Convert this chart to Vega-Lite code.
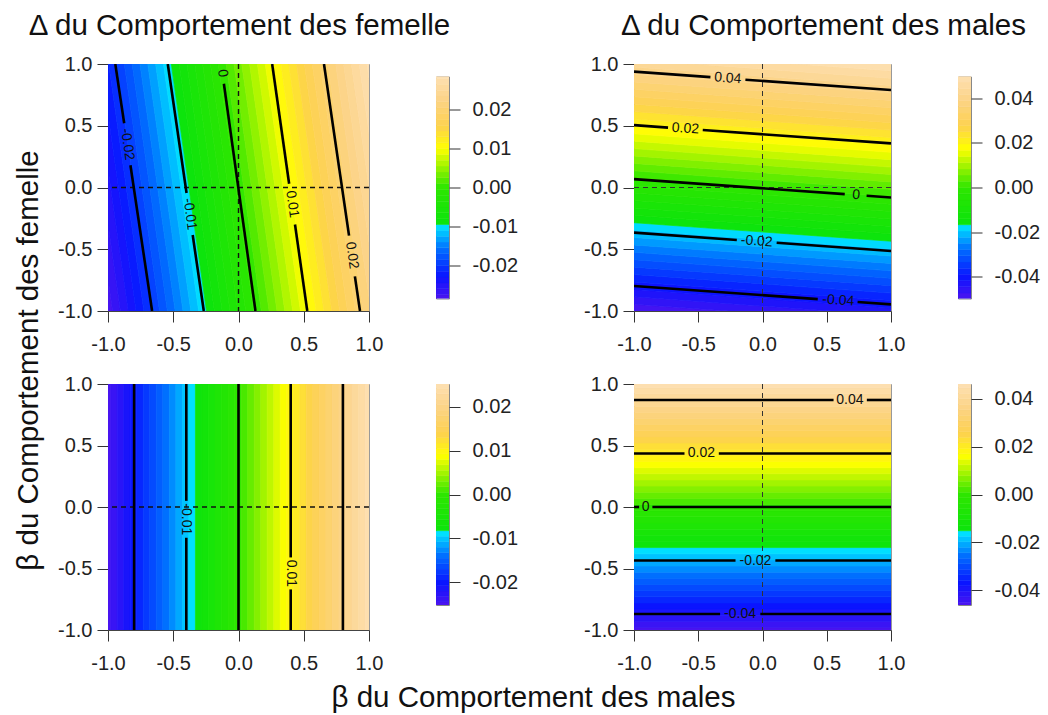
{
"$schema": "https://vega.github.io/schema/vega-lite/v6.json",
"background": "white",
"padding": {"left": 12, "top": 10, "right": 5, "bottom": 5},
"datasets": {
"tl": [
{"b":0,"y":-1,"x":-1.025,"x2":-0.965,"v":-0.02825,"v0":-0.029,"v1":-0.0275},{"b":0,"y":1,"x":-1.295,"x2":-1.235,"v":-0.02825},
{"b":1,"y":-1,"x":-0.965,"x2":-0.905,"v":-0.02675,"v0":-0.0275,"v1":-0.026},{"b":1,"y":1,"x":-1.235,"x2":-1.175,"v":-0.02675},
{"b":2,"y":-1,"x":-0.905,"x2":-0.845,"v":-0.02525,"v0":-0.026,"v1":-0.0245},{"b":2,"y":1,"x":-1.175,"x2":-1.115,"v":-0.02525},
{"b":3,"y":-1,"x":-0.845,"x2":-0.785,"v":-0.02375,"v0":-0.0245,"v1":-0.023},{"b":3,"y":1,"x":-1.115,"x2":-1.055,"v":-0.02375},
{"b":4,"y":-1,"x":-0.785,"x2":-0.725,"v":-0.02225,"v0":-0.023,"v1":-0.0215},{"b":4,"y":1,"x":-1.055,"x2":-0.995,"v":-0.02225},
{"b":5,"y":-1,"x":-0.725,"x2":-0.665,"v":-0.02075,"v0":-0.0215,"v1":-0.02},{"b":5,"y":1,"x":-0.995,"x2":-0.935,"v":-0.02075},
{"b":6,"y":-1,"x":-0.665,"x2":-0.605,"v":-0.01925,"v0":-0.02,"v1":-0.0185},{"b":6,"y":1,"x":-0.935,"x2":-0.875,"v":-0.01925},
{"b":7,"y":-1,"x":-0.605,"x2":-0.545,"v":-0.01775,"v0":-0.0185,"v1":-0.017},{"b":7,"y":1,"x":-0.875,"x2":-0.815,"v":-0.01775},
{"b":8,"y":-1,"x":-0.545,"x2":-0.485,"v":-0.01625,"v0":-0.017,"v1":-0.0155},{"b":8,"y":1,"x":-0.815,"x2":-0.755,"v":-0.01625},
{"b":9,"y":-1,"x":-0.485,"x2":-0.425,"v":-0.01475,"v0":-0.0155,"v1":-0.014},{"b":9,"y":1,"x":-0.755,"x2":-0.695,"v":-0.01475},
{"b":10,"y":-1,"x":-0.425,"x2":-0.365,"v":-0.01325,"v0":-0.014,"v1":-0.0125},{"b":10,"y":1,"x":-0.695,"x2":-0.635,"v":-0.01325},
{"b":11,"y":-1,"x":-0.365,"x2":-0.305,"v":-0.01175,"v0":-0.0125,"v1":-0.011},{"b":11,"y":1,"x":-0.635,"x2":-0.575,"v":-0.01175},
{"b":12,"y":-1,"x":-0.305,"x2":-0.245,"v":-0.01025,"v0":-0.011,"v1":-0.0095},{"b":12,"y":1,"x":-0.575,"x2":-0.515,"v":-0.01025},
{"b":13,"y":-1,"x":-0.245,"x2":-0.185,"v":-0.00875,"v0":-0.0095,"v1":-0.008},{"b":13,"y":1,"x":-0.515,"x2":-0.455,"v":-0.00875},
{"b":14,"y":-1,"x":-0.185,"x2":-0.125,"v":-0.00725,"v0":-0.008,"v1":-0.0065},{"b":14,"y":1,"x":-0.455,"x2":-0.395,"v":-0.00725},
{"b":15,"y":-1,"x":-0.125,"x2":-0.065,"v":-0.00575,"v0":-0.0065,"v1":-0.005},{"b":15,"y":1,"x":-0.395,"x2":-0.335,"v":-0.00575},
{"b":16,"y":-1,"x":-0.065,"x2":-0.005,"v":-0.00425,"v0":-0.005,"v1":-0.0035},{"b":16,"y":1,"x":-0.335,"x2":-0.275,"v":-0.00425},
{"b":17,"y":-1,"x":-0.005,"x2":0.055,"v":-0.00275,"v0":-0.0035,"v1":-0.002},{"b":17,"y":1,"x":-0.275,"x2":-0.215,"v":-0.00275},
{"b":18,"y":-1,"x":0.055,"x2":0.115,"v":-0.00125,"v0":-0.002,"v1":-0.0005},{"b":18,"y":1,"x":-0.215,"x2":-0.155,"v":-0.00125},
{"b":19,"y":-1,"x":0.115,"x2":0.175,"v":0.00025,"v0":-0.0005,"v1":0.001},{"b":19,"y":1,"x":-0.155,"x2":-0.095,"v":0.00025},
{"b":20,"y":-1,"x":0.175,"x2":0.235,"v":0.00175,"v0":0.001,"v1":0.0025},{"b":20,"y":1,"x":-0.095,"x2":-0.035,"v":0.00175},
{"b":21,"y":-1,"x":0.235,"x2":0.295,"v":0.00325,"v0":0.0025,"v1":0.004},{"b":21,"y":1,"x":-0.035,"x2":0.025,"v":0.00325},
{"b":22,"y":-1,"x":0.295,"x2":0.355,"v":0.00475,"v0":0.004,"v1":0.0055},{"b":22,"y":1,"x":0.025,"x2":0.085,"v":0.00475},
{"b":23,"y":-1,"x":0.355,"x2":0.415,"v":0.00625,"v0":0.0055,"v1":0.007},{"b":23,"y":1,"x":0.085,"x2":0.145,"v":0.00625},
{"b":24,"y":-1,"x":0.415,"x2":0.475,"v":0.00775,"v0":0.007,"v1":0.0085},{"b":24,"y":1,"x":0.145,"x2":0.205,"v":0.00775},
{"b":25,"y":-1,"x":0.475,"x2":0.535,"v":0.00925,"v0":0.0085,"v1":0.01},{"b":25,"y":1,"x":0.205,"x2":0.265,"v":0.00925},
{"b":26,"y":-1,"x":0.535,"x2":0.595,"v":0.01075,"v0":0.01,"v1":0.0115},{"b":26,"y":1,"x":0.265,"x2":0.325,"v":0.01075},
{"b":27,"y":-1,"x":0.595,"x2":0.655,"v":0.01225,"v0":0.0115,"v1":0.013},{"b":27,"y":1,"x":0.325,"x2":0.385,"v":0.01225},
{"b":28,"y":-1,"x":0.655,"x2":0.715,"v":0.01375,"v0":0.013,"v1":0.0145},{"b":28,"y":1,"x":0.385,"x2":0.445,"v":0.01375},
{"b":29,"y":-1,"x":0.715,"x2":0.775,"v":0.01525,"v0":0.0145,"v1":0.016},{"b":29,"y":1,"x":0.445,"x2":0.505,"v":0.01525},
{"b":30,"y":-1,"x":0.775,"x2":0.835,"v":0.01675,"v0":0.016,"v1":0.0175},{"b":30,"y":1,"x":0.505,"x2":0.565,"v":0.01675},
{"b":31,"y":-1,"x":0.835,"x2":0.895,"v":0.01825,"v0":0.0175,"v1":0.019},{"b":31,"y":1,"x":0.565,"x2":0.625,"v":0.01825},
{"b":32,"y":-1,"x":0.895,"x2":0.955,"v":0.01975,"v0":0.019,"v1":0.0205},{"b":32,"y":1,"x":0.625,"x2":0.685,"v":0.01975},
{"b":33,"y":-1,"x":0.955,"x2":1.015,"v":0.02125,"v0":0.0205,"v1":0.022},{"b":33,"y":1,"x":0.685,"x2":0.745,"v":0.02125},
{"b":34,"y":-1,"x":1.015,"x2":1.075,"v":0.02275,"v0":0.022,"v1":0.0235},{"b":34,"y":1,"x":0.745,"x2":0.805,"v":0.02275},
{"b":35,"y":-1,"x":1.075,"x2":1.135,"v":0.02425,"v0":0.0235,"v1":0.025},{"b":35,"y":1,"x":0.805,"x2":0.865,"v":0.02425},
{"b":36,"y":-1,"x":1.135,"x2":1.195,"v":0.02575,"v0":0.025,"v1":0.0265},{"b":36,"y":1,"x":0.865,"x2":0.925,"v":0.02575},
{"b":37,"y":-1,"x":1.195,"x2":1.255,"v":0.02725,"v0":0.0265,"v1":0.028},{"b":37,"y":1,"x":0.925,"x2":0.985,"v":0.02725},
{"b":38,"y":-1,"x":1.255,"x2":1.315,"v":0.02875,"v0":0.028,"v1":0.0295},{"b":38,"y":1,"x":0.985,"x2":1.045,"v":0.02875}
],
"tr": [
{"b":0,"x":-1,"y":-1.005,"y2":-0.945,"v":-0.04862,"v0":-0.05,"v1":-0.04723},{"b":0,"x":1,"y":-1.155,"y2":-1.095,"v":-0.04862},
{"b":1,"x":-1,"y":-0.945,"y2":-0.885,"v":-0.04584,"v0":-0.04723,"v1":-0.04445},{"b":1,"x":1,"y":-1.095,"y2":-1.035,"v":-0.04584},
{"b":2,"x":-1,"y":-0.885,"y2":-0.825,"v":-0.04306,"v0":-0.04445,"v1":-0.04167},{"b":2,"x":1,"y":-1.035,"y2":-0.975,"v":-0.04306},
{"b":3,"x":-1,"y":-0.825,"y2":-0.765,"v":-0.04028,"v0":-0.04167,"v1":-0.03889},{"b":3,"x":1,"y":-0.975,"y2":-0.915,"v":-0.04028},
{"b":4,"x":-1,"y":-0.765,"y2":-0.705,"v":-0.0375,"v0":-0.03889,"v1":-0.03611},{"b":4,"x":1,"y":-0.915,"y2":-0.855,"v":-0.0375},
{"b":5,"x":-1,"y":-0.705,"y2":-0.645,"v":-0.03473,"v0":-0.03611,"v1":-0.03334},{"b":5,"x":1,"y":-0.855,"y2":-0.795,"v":-0.03473},
{"b":6,"x":-1,"y":-0.645,"y2":-0.585,"v":-0.03195,"v0":-0.03334,"v1":-0.03056},{"b":6,"x":1,"y":-0.795,"y2":-0.735,"v":-0.03195},
{"b":7,"x":-1,"y":-0.585,"y2":-0.525,"v":-0.02917,"v0":-0.03056,"v1":-0.02778},{"b":7,"x":1,"y":-0.735,"y2":-0.675,"v":-0.02917},
{"b":8,"x":-1,"y":-0.525,"y2":-0.465,"v":-0.02639,"v0":-0.02778,"v1":-0.025},{"b":8,"x":1,"y":-0.675,"y2":-0.615,"v":-0.02639},
{"b":9,"x":-1,"y":-0.465,"y2":-0.405,"v":-0.02361,"v0":-0.025,"v1":-0.02222},{"b":9,"x":1,"y":-0.615,"y2":-0.555,"v":-0.02361},
{"b":10,"x":-1,"y":-0.405,"y2":-0.345,"v":-0.02084,"v0":-0.02222,"v1":-0.01945},{"b":10,"x":1,"y":-0.555,"y2":-0.495,"v":-0.02084},
{"b":11,"x":-1,"y":-0.345,"y2":-0.285,"v":-0.01806,"v0":-0.01945,"v1":-0.01667},{"b":11,"x":1,"y":-0.495,"y2":-0.435,"v":-0.01806},
{"b":12,"x":-1,"y":-0.285,"y2":-0.225,"v":-0.01528,"v0":-0.01667,"v1":-0.01389},{"b":12,"x":1,"y":-0.435,"y2":-0.375,"v":-0.01528},
{"b":13,"x":-1,"y":-0.225,"y2":-0.165,"v":-0.0125,"v0":-0.01389,"v1":-0.01111},{"b":13,"x":1,"y":-0.375,"y2":-0.315,"v":-0.0125},
{"b":14,"x":-1,"y":-0.165,"y2":-0.105,"v":-0.00972,"v0":-0.01111,"v1":-0.00833},{"b":14,"x":1,"y":-0.315,"y2":-0.255,"v":-0.00972},
{"b":15,"x":-1,"y":-0.105,"y2":-0.045,"v":-0.00695,"v0":-0.00833,"v1":-0.00556},{"b":15,"x":1,"y":-0.255,"y2":-0.195,"v":-0.00695},
{"b":16,"x":-1,"y":-0.045,"y2":0.015,"v":-0.00417,"v0":-0.00556,"v1":-0.00278},{"b":16,"x":1,"y":-0.195,"y2":-0.135,"v":-0.00417},
{"b":17,"x":-1,"y":0.015,"y2":0.075,"v":-0.00139,"v0":-0.00278,"v1":0},{"b":17,"x":1,"y":-0.135,"y2":-0.075,"v":-0.00139},
{"b":18,"x":-1,"y":0.075,"y2":0.135,"v":0.00139,"v0":0,"v1":0.00278},{"b":18,"x":1,"y":-0.075,"y2":-0.015,"v":0.00139},
{"b":19,"x":-1,"y":0.135,"y2":0.195,"v":0.00417,"v0":0.00278,"v1":0.00556},{"b":19,"x":1,"y":-0.015,"y2":0.045,"v":0.00417},
{"b":20,"x":-1,"y":0.195,"y2":0.255,"v":0.00695,"v0":0.00556,"v1":0.00833},{"b":20,"x":1,"y":0.045,"y2":0.105,"v":0.00695},
{"b":21,"x":-1,"y":0.255,"y2":0.315,"v":0.00972,"v0":0.00833,"v1":0.01111},{"b":21,"x":1,"y":0.105,"y2":0.165,"v":0.00972},
{"b":22,"x":-1,"y":0.315,"y2":0.375,"v":0.0125,"v0":0.01111,"v1":0.01389},{"b":22,"x":1,"y":0.165,"y2":0.225,"v":0.0125},
{"b":23,"x":-1,"y":0.375,"y2":0.435,"v":0.01528,"v0":0.01389,"v1":0.01667},{"b":23,"x":1,"y":0.225,"y2":0.285,"v":0.01528},
{"b":24,"x":-1,"y":0.435,"y2":0.495,"v":0.01806,"v0":0.01667,"v1":0.01945},{"b":24,"x":1,"y":0.285,"y2":0.345,"v":0.01806},
{"b":25,"x":-1,"y":0.495,"y2":0.555,"v":0.02084,"v0":0.01945,"v1":0.02222},{"b":25,"x":1,"y":0.345,"y2":0.405,"v":0.02084},
{"b":26,"x":-1,"y":0.555,"y2":0.615,"v":0.02361,"v0":0.02222,"v1":0.025},{"b":26,"x":1,"y":0.405,"y2":0.465,"v":0.02361},
{"b":27,"x":-1,"y":0.615,"y2":0.675,"v":0.02639,"v0":0.025,"v1":0.02778},{"b":27,"x":1,"y":0.465,"y2":0.525,"v":0.02639},
{"b":28,"x":-1,"y":0.675,"y2":0.735,"v":0.02917,"v0":0.02778,"v1":0.03056},{"b":28,"x":1,"y":0.525,"y2":0.585,"v":0.02917},
{"b":29,"x":-1,"y":0.735,"y2":0.795,"v":0.03195,"v0":0.03056,"v1":0.03334},{"b":29,"x":1,"y":0.585,"y2":0.645,"v":0.03195},
{"b":30,"x":-1,"y":0.795,"y2":0.855,"v":0.03473,"v0":0.03334,"v1":0.03611},{"b":30,"x":1,"y":0.645,"y2":0.705,"v":0.03473},
{"b":31,"x":-1,"y":0.855,"y2":0.915,"v":0.0375,"v0":0.03611,"v1":0.03889},{"b":31,"x":1,"y":0.705,"y2":0.765,"v":0.0375},
{"b":32,"x":-1,"y":0.915,"y2":0.975,"v":0.04028,"v0":0.03889,"v1":0.04167},{"b":32,"x":1,"y":0.765,"y2":0.825,"v":0.04028},
{"b":33,"x":-1,"y":0.975,"y2":1.035,"v":0.04306,"v0":0.04167,"v1":0.04445},{"b":33,"x":1,"y":0.825,"y2":0.885,"v":0.04306},
{"b":34,"x":-1,"y":1.035,"y2":1.095,"v":0.04584,"v0":0.04445,"v1":0.04723},{"b":34,"x":1,"y":0.885,"y2":0.945,"v":0.04584},
{"b":35,"x":-1,"y":1.095,"y2":1.155,"v":0.04862,"v0":0.04723,"v1":0.05},{"b":35,"x":1,"y":0.945,"y2":1.005,"v":0.04862}
],
"bl": [
{"x":-1.03,"x2":-0.98,"v":-0.025125,"v0":-0.02575,"v1":-0.0245},
{"x":-0.98,"x2":-0.93,"v":-0.023875,"v0":-0.0245,"v1":-0.02325},
{"x":-0.93,"x2":-0.88,"v":-0.022625,"v0":-0.02325,"v1":-0.022},
{"x":-0.88,"x2":-0.83,"v":-0.021375,"v0":-0.022,"v1":-0.02075},
{"x":-0.83,"x2":-0.78,"v":-0.020125,"v0":-0.02075,"v1":-0.0195},
{"x":-0.78,"x2":-0.73,"v":-0.018875,"v0":-0.0195,"v1":-0.01825},
{"x":-0.73,"x2":-0.68,"v":-0.017625,"v0":-0.01825,"v1":-0.017},
{"x":-0.68,"x2":-0.63,"v":-0.016375,"v0":-0.017,"v1":-0.01575},
{"x":-0.63,"x2":-0.58,"v":-0.015125,"v0":-0.01575,"v1":-0.0145},
{"x":-0.58,"x2":-0.53,"v":-0.013875,"v0":-0.0145,"v1":-0.01325},
{"x":-0.53,"x2":-0.48,"v":-0.012625,"v0":-0.01325,"v1":-0.012},
{"x":-0.48,"x2":-0.43,"v":-0.011375,"v0":-0.012,"v1":-0.01075},
{"x":-0.43,"x2":-0.38,"v":-0.010125,"v0":-0.01075,"v1":-0.0095},
{"x":-0.38,"x2":-0.33,"v":-0.008875,"v0":-0.0095,"v1":-0.00825},
{"x":-0.33,"x2":-0.28,"v":-0.007625,"v0":-0.00825,"v1":-0.007},
{"x":-0.28,"x2":-0.23,"v":-0.006375,"v0":-0.007,"v1":-0.00575},
{"x":-0.23,"x2":-0.18,"v":-0.005125,"v0":-0.00575,"v1":-0.0045},
{"x":-0.18,"x2":-0.13,"v":-0.003875,"v0":-0.0045,"v1":-0.00325},
{"x":-0.13,"x2":-0.08,"v":-0.002625,"v0":-0.00325,"v1":-0.002},
{"x":-0.08,"x2":-0.03,"v":-0.001375,"v0":-0.002,"v1":-0.00075},
{"x":-0.03,"x2":0.02,"v":-0.000125,"v0":-0.00075,"v1":0.0005},
{"x":0.02,"x2":0.07,"v":0.001125,"v0":0.0005,"v1":0.00175},
{"x":0.07,"x2":0.12,"v":0.002375,"v0":0.00175,"v1":0.003},
{"x":0.12,"x2":0.17,"v":0.003625,"v0":0.003,"v1":0.00425},
{"x":0.17,"x2":0.22,"v":0.004875,"v0":0.00425,"v1":0.0055},
{"x":0.22,"x2":0.27,"v":0.006125,"v0":0.0055,"v1":0.00675},
{"x":0.27,"x2":0.32,"v":0.007375,"v0":0.00675,"v1":0.008},
{"x":0.32,"x2":0.37,"v":0.008625,"v0":0.008,"v1":0.00925},
{"x":0.37,"x2":0.42,"v":0.009875,"v0":0.00925,"v1":0.0105},
{"x":0.42,"x2":0.47,"v":0.011125,"v0":0.0105,"v1":0.01175},
{"x":0.47,"x2":0.52,"v":0.012375,"v0":0.01175,"v1":0.013},
{"x":0.52,"x2":0.57,"v":0.013625,"v0":0.013,"v1":0.01425},
{"x":0.57,"x2":0.62,"v":0.014875,"v0":0.01425,"v1":0.0155},
{"x":0.62,"x2":0.67,"v":0.016125,"v0":0.0155,"v1":0.01675},
{"x":0.67,"x2":0.72,"v":0.017375,"v0":0.01675,"v1":0.018},
{"x":0.72,"x2":0.77,"v":0.018625,"v0":0.018,"v1":0.01925},
{"x":0.77,"x2":0.82,"v":0.019875,"v0":0.01925,"v1":0.0205},
{"x":0.82,"x2":0.87,"v":0.021125,"v0":0.0205,"v1":0.02175},
{"x":0.87,"x2":0.92,"v":0.022375,"v0":0.02175,"v1":0.023},
{"x":0.92,"x2":0.97,"v":0.023625,"v0":0.023,"v1":0.02425},
{"x":0.97,"x2":1.02,"v":0.024875,"v0":0.02425,"v1":0.0255}
],
"br": [
{"y":-1.03,"y2":-0.98,"v":-0.04623,"v0":-0.04738,"v1":-0.04508},
{"y":-0.98,"y2":-0.93,"v":-0.04393,"v0":-0.04508,"v1":-0.04278},
{"y":-0.93,"y2":-0.88,"v":-0.04163,"v0":-0.04278,"v1":-0.04048},
{"y":-0.88,"y2":-0.83,"v":-0.03933,"v0":-0.04048,"v1":-0.03818},
{"y":-0.83,"y2":-0.78,"v":-0.03703,"v0":-0.03818,"v1":-0.03588},
{"y":-0.78,"y2":-0.73,"v":-0.03473,"v0":-0.03588,"v1":-0.03358},
{"y":-0.73,"y2":-0.68,"v":-0.03243,"v0":-0.03358,"v1":-0.03128},
{"y":-0.68,"y2":-0.63,"v":-0.03013,"v0":-0.03128,"v1":-0.02898},
{"y":-0.63,"y2":-0.58,"v":-0.02783,"v0":-0.02898,"v1":-0.02668},
{"y":-0.58,"y2":-0.53,"v":-0.02553,"v0":-0.02668,"v1":-0.02438},
{"y":-0.53,"y2":-0.48,"v":-0.02323,"v0":-0.02438,"v1":-0.02208},
{"y":-0.48,"y2":-0.43,"v":-0.02093,"v0":-0.02208,"v1":-0.01978},
{"y":-0.43,"y2":-0.38,"v":-0.01863,"v0":-0.01978,"v1":-0.01748},
{"y":-0.38,"y2":-0.33,"v":-0.01633,"v0":-0.01748,"v1":-0.01518},
{"y":-0.33,"y2":-0.28,"v":-0.01403,"v0":-0.01518,"v1":-0.01288},
{"y":-0.28,"y2":-0.23,"v":-0.01173,"v0":-0.01288,"v1":-0.01058},
{"y":-0.23,"y2":-0.18,"v":-0.00943,"v0":-0.01058,"v1":-0.00828},
{"y":-0.18,"y2":-0.13,"v":-0.00713,"v0":-0.00828,"v1":-0.00598},
{"y":-0.13,"y2":-0.08,"v":-0.00483,"v0":-0.00598,"v1":-0.00368},
{"y":-0.08,"y2":-0.03,"v":-0.00253,"v0":-0.00368,"v1":-0.00138},
{"y":-0.03,"y2":0.02,"v":-0.00023,"v0":-0.00138,"v1":0.00092},
{"y":0.02,"y2":0.07,"v":0.00207,"v0":0.00092,"v1":0.00322},
{"y":0.07,"y2":0.12,"v":0.00437,"v0":0.00322,"v1":0.00552},
{"y":0.12,"y2":0.17,"v":0.00667,"v0":0.00552,"v1":0.00782},
{"y":0.17,"y2":0.22,"v":0.00897,"v0":0.00782,"v1":0.01012},
{"y":0.22,"y2":0.27,"v":0.01127,"v0":0.01012,"v1":0.01242},
{"y":0.27,"y2":0.32,"v":0.01357,"v0":0.01242,"v1":0.01472},
{"y":0.32,"y2":0.37,"v":0.01587,"v0":0.01472,"v1":0.01702},
{"y":0.37,"y2":0.42,"v":0.01817,"v0":0.01702,"v1":0.01932},
{"y":0.42,"y2":0.47,"v":0.02047,"v0":0.01932,"v1":0.02162},
{"y":0.47,"y2":0.52,"v":0.02277,"v0":0.02162,"v1":0.02392},
{"y":0.52,"y2":0.57,"v":0.02507,"v0":0.02392,"v1":0.02622},
{"y":0.57,"y2":0.62,"v":0.02737,"v0":0.02622,"v1":0.02852},
{"y":0.62,"y2":0.67,"v":0.02967,"v0":0.02852,"v1":0.03082},
{"y":0.67,"y2":0.72,"v":0.03197,"v0":0.03082,"v1":0.03312},
{"y":0.72,"y2":0.77,"v":0.03427,"v0":0.03312,"v1":0.03542},
{"y":0.77,"y2":0.82,"v":0.03657,"v0":0.03542,"v1":0.03772},
{"y":0.82,"y2":0.87,"v":0.03887,"v0":0.03772,"v1":0.04002},
{"y":0.87,"y2":0.92,"v":0.04117,"v0":0.04002,"v1":0.04232},
{"y":0.92,"y2":0.97,"v":0.04347,"v0":0.04232,"v1":0.04462},
{"y":0.97,"y2":1.02,"v":0.04577,"v0":0.04462,"v1":0.04692}
],
"lines": [
{"p":"TL","s":"a","x":-0.944,"y":1},{"p":"TL","s":"a","x":-0.876,"y":0.52},
{"p":"TL","s":"b","x":-0.828,"y":0.18},{"p":"TL","s":"b","x":-0.662,"y":-1},
{"p":"TL","s":"c","x":-0.542,"y":1},{"p":"TL","s":"c","x":-0.398,"y":-0.045},
{"p":"TL","s":"d","x":-0.351,"y":-0.385},{"p":"TL","s":"d","x":-0.266,"y":-1},
{"p":"TL","s":"e","x":-0.112,"y":0.84},{"p":"TL","s":"e","x":0.13,"y":-1},
{"p":"TL","s":"f","x":0.258,"y":1},{"p":"TL","s":"f","x":0.388,"y":0.03},
{"p":"TL","s":"g","x":0.433,"y":-0.3},{"p":"TL","s":"g","x":0.527,"y":-1},
{"p":"TL","s":"h","x":0.655,"y":1},{"p":"TL","s":"h","x":0.847,"y":-0.39},
{"p":"TL","s":"i","x":0.892,"y":-0.72},{"p":"TL","s":"i","x":0.931,"y":-1},
{"p":"TR","s":"a","x":-1,"y":0.938},{"p":"TR","s":"a","x":-0.405,"y":0.894},
{"p":"TR","s":"b","x":-0.133,"y":0.873},{"p":"TR","s":"b","x":1,"y":0.789},
{"p":"TR","s":"c","x":-1,"y":0.505},{"p":"TR","s":"c","x":-0.735,"y":0.485},
{"p":"TR","s":"d","x":-0.465,"y":0.465},{"p":"TR","s":"d","x":1,"y":0.357},
{"p":"TR","s":"e","x":-1,"y":0.068},{"p":"TR","s":"e","x":0.64,"y":-0.054},
{"p":"TR","s":"f","x":0.81,"y":-0.067},{"p":"TR","s":"f","x":1,"y":-0.081},
{"p":"TR","s":"g","x":-1,"y":-0.365},{"p":"TR","s":"g","x":-0.2,"y":-0.425},
{"p":"TR","s":"h","x":0.11,"y":-0.448},{"p":"TR","s":"h","x":1,"y":-0.514},
{"p":"TR","s":"i","x":-1,"y":-0.797},{"p":"TR","s":"i","x":0.43,"y":-0.904},
{"p":"TR","s":"j","x":0.74,"y":-0.927},{"p":"TR","s":"j","x":1,"y":-0.946},
{"p":"BL","s":"a","x":-0.8,"y":1},{"p":"BL","s":"a","x":-0.8,"y":-1},
{"p":"BL","s":"b","x":-0.4,"y":1},{"p":"BL","s":"b","x":-0.4,"y":0.05},
{"p":"BL","s":"c","x":-0.4,"y":-0.25},{"p":"BL","s":"c","x":-0.4,"y":-1},
{"p":"BL","s":"d","x":0,"y":1},{"p":"BL","s":"d","x":0,"y":-1},
{"p":"BL","s":"e","x":0.4,"y":1},{"p":"BL","s":"e","x":0.4,"y":-0.41},
{"p":"BL","s":"f","x":0.4,"y":-0.67},{"p":"BL","s":"f","x":0.4,"y":-1},
{"p":"BL","s":"g","x":0.8,"y":1},{"p":"BL","s":"g","x":0.8,"y":-1},
{"p":"BR","s":"a","x":-1,"y":0.87},{"p":"BR","s":"a","x":0.553,"y":0.87},
{"p":"BR","s":"b","x":0.812,"y":0.87},{"p":"BR","s":"b","x":1,"y":0.87},
{"p":"BR","s":"c","x":-1,"y":0.435},{"p":"BR","s":"c","x":-0.607,"y":0.435},
{"p":"BR","s":"d","x":-0.34,"y":0.435},{"p":"BR","s":"d","x":1,"y":0.435},
{"p":"BR","s":"e","x":-1,"y":0},{"p":"BR","s":"e","x":-0.96,"y":0},
{"p":"BR","s":"f","x":-0.857,"y":0},{"p":"BR","s":"f","x":1,"y":0},
{"p":"BR","s":"g","x":-1,"y":-0.435},{"p":"BR","s":"g","x":-0.21,"y":-0.435},
{"p":"BR","s":"h","x":0.1,"y":-0.435},{"p":"BR","s":"h","x":1,"y":-0.435},
{"p":"BR","s":"i","x":-1,"y":-0.87},{"p":"BR","s":"i","x":-0.33,"y":-0.87},
{"p":"BR","s":"j","x":-0.017,"y":-0.87},{"p":"BR","s":"j","x":1,"y":-0.87}
],
"labels": [
{"p":"TL","x":-0.852,"y":0.35,"t":"-0.02"},{"p":"TL","x":-0.374,"y":-0.215,"t":"-0.01"},{"p":"TL","x":-0.123,"y":0.925,"t":"0"},{"p":"TL","x":0.411,"y":-0.135,"t":"0.01"},{"p":"TL","x":0.869,"y":-0.55,"t":"0.02"},
{"p":"TR","x":-0.27,"y":0.884,"t":"0.04"},{"p":"TR","x":-0.6,"y":0.476,"t":"0.02"},{"p":"TR","x":0.728,"y":-0.061,"t":"0"},{"p":"TR","x":-0.045,"y":-0.436,"t":"-0.02"},{"p":"TR","x":0.59,"y":-0.915,"t":"-0.04"},
{"p":"BL","x":-0.4,"y":-0.1,"t":"-0.01"},{"p":"BL","x":0.4,"y":-0.54,"t":"0.01"},
{"p":"BR","x":0.68,"y":0.87,"t":"0.04"},{"p":"BR","x":-0.475,"y":0.435,"t":"0.02"},{"p":"BR","x":-0.91,"y":0,"t":"0"},{"p":"BR","x":-0.055,"y":-0.435,"t":"-0.02"},{"p":"BR","x":-0.175,"y":-0.87,"t":"-0.04"}
],
"ref": [{"p":"TL","z":0},{"p":"TR","z":0},{"p":"BL","z":0},{"p":"BR","z":0}]
},
"columns": 5,
"spacing": {"row": 73, "column": 67},
"bounds": "flush",
"center": true,
"resolve": {"scale": {"color": "independent", "stroke": "independent"}},
"concat": [
{
"width": 261, "height": 247,
"title": {"text": "Δ du Comportement des femelle", "frame": "group", "anchor": "middle", "dx": 1, "offset": -10, "baseline": "alphabetic", "fontSize": 29.5, "fontWeight": "normal", "color": "#111"},
"layer": [
{"data": {"name": "tl"}, "mark": {"type": "area", "orient": "horizontal", "clip": true, "strokeWidth": 0.7},
 "encoding": {
  "y": {"field": "y", "type": "quantitative", "scale": {"domain": [-1, 1], "nice": false, "zero": false}, "axis": {"values": [-1, -0.5, 0, 0.5, 1], "format": ".1f", "title": null, "labelPadding": 5}},
  "x": {"field": "x", "type": "quantitative", "stack": null, "scale": {"domain": [-1, 1], "nice": false, "zero": false}, "axis": {"values": [-1, -0.5, 0, 0.5, 1], "format": ".1f", "title": null, "labelPadding": 12}},
  "x2": {"field": "x2"},
  "detail": {"field": "b"},
  "color": {"field": "v", "type": "quantitative", "legend": null, "scale": {"type": "linear", "domain": [-0.0285, -0.0228, -0.01568, -0.00983, -0.00912, 0, 0.00998, 0.01568, 0.02223, 0.0285], "range": ["#4a14f0", "#0a14ff", "#0070ff", "#00e4ff", "#0ce40c", "#2ee600", "#ffff00", "#fdd24e", "#fcd385", "#fde0b2"], "interpolate": "rgb", "clamp": true, "zero": false, "nice": false}},
  "stroke": {"field": "v", "type": "quantitative", "legend": null, "scale": {"type": "linear", "domain": [-0.0285, -0.0228, -0.01568, -0.00983, -0.00912, 0, 0.00998, 0.01568, 0.02223, 0.0285], "range": ["#4a14f0", "#0a14ff", "#0070ff", "#00e4ff", "#0ce40c", "#2ee600", "#ffff00", "#fdd24e", "#fcd385", "#fde0b2"], "interpolate": "rgb", "clamp": true, "zero": false, "nice": false}}
 }},
{"data": {"name": "ref"}, "transform": [{"filter": "datum.p === 'TL'"}], "mark": {"type": "rule", "strokeDash": [5, 4], "color": "#111", "strokeWidth": 1.4},
 "encoding": {"x": {"field": "z", "type": "quantitative", "scale": {"domain": [-1, 1], "nice": false, "zero": false}}}},
{"data": {"name": "ref"}, "transform": [{"filter": "datum.p === 'TL'"}], "mark": {"type": "rule", "strokeDash": [5, 4], "color": "#111", "strokeWidth": 1.4},
 "encoding": {"y": {"field": "z", "type": "quantitative", "scale": {"domain": [-1, 1], "nice": false, "zero": false}}}},
{"data": {"name": "lines"}, "transform": [{"filter": "datum.p === 'TL'"}], "mark": {"type": "line", "color": "black", "strokeWidth": 2.6, "clip": true},
 "encoding": {"x": {"field": "x", "type": "quantitative", "scale": {"domain": [-1, 1], "nice": false, "zero": false}}, "y": {"field": "y", "type": "quantitative", "scale": {"domain": [-1, 1], "nice": false, "zero": false}}, "detail": {"field": "s"}}},
{"data": {"name": "labels"}, "transform": [{"filter": "datum.p === 'TL'"}], "mark": {"type": "text", "angle": 82, "fontSize": 14, "color": "#111", "align": "center", "baseline": "middle"},
 "encoding": {"x": {"field": "x", "type": "quantitative", "scale": {"domain": [-1, 1], "nice": false, "zero": false}}, "y": {"field": "y", "type": "quantitative", "scale": {"domain": [-1, 1], "nice": false, "zero": false}}, "text": {"field": "t", "type": "nominal"}}}
]
},
{
"width": 13, "height": 222, "view": {"stroke": "#888"},
"data": {"name": "tl"}, "transform": [{"filter": "datum.y === -1"}],
"mark": {"type": "rect", "clip": true, "strokeWidth": 0.5},
"encoding": {
 "y": {"field": "v0", "type": "quantitative", "scale": {"domain": [-0.0285, 0.0285], "nice": false, "zero": false}, "axis": {"orient": "right", "values": [-0.02, -0.01, 0, 0.01, 0.02], "format": ".2f", "title": null, "domain": false, "labelPadding": 12}},
 "y2": {"field": "v1"},
 "color": {"field": "v", "type": "quantitative", "legend": null, "scale": {"type": "linear", "domain": [-0.0285, -0.0228, -0.01568, -0.00983, -0.00912, 0, 0.00998, 0.01568, 0.02223, 0.0285], "range": ["#4a14f0", "#0a14ff", "#0070ff", "#00e4ff", "#0ce40c", "#2ee600", "#ffff00", "#fdd24e", "#fcd385", "#fde0b2"], "interpolate": "rgb", "clamp": true, "zero": false, "nice": false}},
 "stroke": {"field": "v", "type": "quantitative", "legend": null, "scale": {"type": "linear", "domain": [-0.0285, -0.0228, -0.01568, -0.00983, -0.00912, 0, 0.00998, 0.01568, 0.02223, 0.0285], "range": ["#4a14f0", "#0a14ff", "#0070ff", "#00e4ff", "#0ce40c", "#2ee600", "#ffff00", "#fdd24e", "#fcd385", "#fde0b2"], "interpolate": "rgb", "clamp": true, "zero": false, "nice": false}}
}
},
{"width": 51, "height": 20, "view": {"stroke": null}, "data": {"values": []}, "mark": "point"},
{
"width": 257, "height": 247,
"title": {"text": "Δ du Comportement des males", "frame": "group", "anchor": "middle", "dx": 61, "offset": -10, "baseline": "alphabetic", "fontSize": 29.5, "fontWeight": "normal", "color": "#111"},
"layer": [
{"data": {"name": "tr"}, "mark": {"type": "area", "clip": true, "strokeWidth": 0.7},
 "encoding": {
  "x": {"field": "x", "type": "quantitative", "scale": {"domain": [-1, 1], "nice": false, "zero": false}, "axis": {"values": [-1, -0.5, 0, 0.5, 1], "format": ".1f", "title": null, "labelPadding": 12}},
  "y": {"field": "y", "type": "quantitative", "stack": null, "scale": {"domain": [-1, 1], "nice": false, "zero": false}, "axis": {"values": [-1, -0.5, 0, 0.5, 1], "format": ".1f", "title": null, "labelPadding": 5}},
  "y2": {"field": "y2"},
  "detail": {"field": "b"},
  "color": {"field": "v", "type": "quantitative", "legend": null, "scale": {"type": "linear", "domain": [-0.0497, -0.03976, -0.02734, -0.01715, -0.0159, 0, 0.0174, 0.02734, 0.03877, 0.0497], "range": ["#4a14f0", "#0a14ff", "#0070ff", "#00e4ff", "#0ce40c", "#2ee600", "#ffff00", "#fdd24e", "#fcd385", "#fde0b2"], "interpolate": "rgb", "clamp": true, "zero": false, "nice": false}},
  "stroke": {"field": "v", "type": "quantitative", "legend": null, "scale": {"type": "linear", "domain": [-0.0497, -0.03976, -0.02734, -0.01715, -0.0159, 0, 0.0174, 0.02734, 0.03877, 0.0497], "range": ["#4a14f0", "#0a14ff", "#0070ff", "#00e4ff", "#0ce40c", "#2ee600", "#ffff00", "#fdd24e", "#fcd385", "#fde0b2"], "interpolate": "rgb", "clamp": true, "zero": false, "nice": false}}
 }},
{"data": {"name": "ref"}, "transform": [{"filter": "datum.p === 'TR'"}], "mark": {"type": "rule", "strokeDash": [5, 4], "color": "#333", "strokeWidth": 1},
 "encoding": {"x": {"field": "z", "type": "quantitative", "scale": {"domain": [-1, 1], "nice": false, "zero": false}}}},
{"data": {"name": "ref"}, "transform": [{"filter": "datum.p === 'TR'"}], "mark": {"type": "rule", "strokeDash": [5, 4], "color": "#333", "strokeWidth": 1},
 "encoding": {"y": {"field": "z", "type": "quantitative", "scale": {"domain": [-1, 1], "nice": false, "zero": false}}}},
{"data": {"name": "lines"}, "transform": [{"filter": "datum.p === 'TR'"}], "mark": {"type": "line", "color": "black", "strokeWidth": 2.6, "clip": true},
 "encoding": {"x": {"field": "x", "type": "quantitative", "scale": {"domain": [-1, 1], "nice": false, "zero": false}}, "y": {"field": "y", "type": "quantitative", "scale": {"domain": [-1, 1], "nice": false, "zero": false}}, "detail": {"field": "s"}}},
{"data": {"name": "labels"}, "transform": [{"filter": "datum.p === 'TR'"}], "mark": {"type": "text", "angle": 4, "fontSize": 14, "color": "#111", "align": "center", "baseline": "middle"},
 "encoding": {"x": {"field": "x", "type": "quantitative", "scale": {"domain": [-1, 1], "nice": false, "zero": false}}, "y": {"field": "y", "type": "quantitative", "scale": {"domain": [-1, 1], "nice": false, "zero": false}}, "text": {"field": "t", "type": "nominal"}}}
]
},
{
"width": 13, "height": 222, "view": {"stroke": "#888"},
"data": {"name": "tr"}, "transform": [{"filter": "datum.x === -1"}],
"mark": {"type": "rect", "clip": true, "strokeWidth": 0.5},
"encoding": {
 "y": {"field": "v0", "type": "quantitative", "scale": {"domain": [-0.0497, 0.0497], "nice": false, "zero": false}, "axis": {"orient": "right", "values": [-0.04, -0.02, 0, 0.02, 0.04], "format": ".2f", "title": null, "domain": false, "labelPadding": 12}},
 "y2": {"field": "v1"},
 "color": {"field": "v", "type": "quantitative", "legend": null, "scale": {"type": "linear", "domain": [-0.0497, -0.03976, -0.02734, -0.01715, -0.0159, 0, 0.0174, 0.02734, 0.03877, 0.0497], "range": ["#4a14f0", "#0a14ff", "#0070ff", "#00e4ff", "#0ce40c", "#2ee600", "#ffff00", "#fdd24e", "#fcd385", "#fde0b2"], "interpolate": "rgb", "clamp": true, "zero": false, "nice": false}},
 "stroke": {"field": "v", "type": "quantitative", "legend": null, "scale": {"type": "linear", "domain": [-0.0497, -0.03976, -0.02734, -0.01715, -0.0159, 0, 0.0174, 0.02734, 0.03877, 0.0497], "range": ["#4a14f0", "#0a14ff", "#0070ff", "#00e4ff", "#0ce40c", "#2ee600", "#ffff00", "#fdd24e", "#fcd385", "#fde0b2"], "interpolate": "rgb", "clamp": true, "zero": false, "nice": false}}
}
},
{
"width": 261, "height": 246,
"layer": [
{"data": {"name": "bl"}, "mark": {"type": "rect", "clip": true, "strokeWidth": 0.7},
 "encoding": {
  "x": {"field": "x", "type": "quantitative", "scale": {"domain": [-1, 1], "nice": false, "zero": false}, "axis": {"values": [-1, -0.5, 0, 0.5, 1], "format": ".1f", "labelPadding": 12, "title": "β du Comportement des males", "titleX": 425, "titleY": 67, "titleAlign": "center", "titleBaseline": "middle"}},
  "x2": {"field": "x2"},
  "color": {"field": "v", "type": "quantitative", "legend": null, "scale": {"type": "linear", "domain": [-0.0252, -0.02016, -0.01386, -0.00869, -0.00806, 0, 0.00882, 0.01386, 0.01966, 0.0252], "range": ["#4a14f0", "#0a14ff", "#0070ff", "#00e4ff", "#0ce40c", "#2ee600", "#ffff00", "#fdd24e", "#fcd385", "#fde0b2"], "interpolate": "rgb", "clamp": true, "zero": false, "nice": false}},
  "stroke": {"field": "v", "type": "quantitative", "legend": null, "scale": {"type": "linear", "domain": [-0.0252, -0.02016, -0.01386, -0.00869, -0.00806, 0, 0.00882, 0.01386, 0.01966, 0.0252], "range": ["#4a14f0", "#0a14ff", "#0070ff", "#00e4ff", "#0ce40c", "#2ee600", "#ffff00", "#fdd24e", "#fcd385", "#fde0b2"], "interpolate": "rgb", "clamp": true, "zero": false, "nice": false}}
 }},
{"data": {"name": "ref"}, "transform": [{"filter": "datum.p === 'BL'"}], "mark": {"type": "rule", "strokeDash": [5, 4], "color": "#111", "strokeWidth": 1.4},
 "encoding": {"y": {"field": "z", "type": "quantitative", "scale": {"domain": [-1, 1], "nice": false, "zero": false}, "axis": {"values": [-1, -0.5, 0, 0.5, 1], "format": ".1f", "labelPadding": 5, "title": "β du Comportement des femelle", "titleX": -80, "titleY": -24, "titleAngle": 270, "titleAlign": "center", "titleBaseline": "middle"}}}},
{"data": {"name": "lines"}, "transform": [{"filter": "datum.p === 'BL'"}], "mark": {"type": "line", "color": "black", "strokeWidth": 2.6, "clip": true},
 "encoding": {"x": {"field": "x", "type": "quantitative", "scale": {"domain": [-1, 1], "nice": false, "zero": false}}, "y": {"field": "y", "type": "quantitative", "scale": {"domain": [-1, 1], "nice": false, "zero": false}}, "detail": {"field": "s"}}},
{"data": {"name": "labels"}, "transform": [{"filter": "datum.p === 'BL'"}], "mark": {"type": "text", "angle": 90, "fontSize": 14, "color": "#111", "align": "center", "baseline": "middle"},
 "encoding": {"x": {"field": "x", "type": "quantitative", "scale": {"domain": [-1, 1], "nice": false, "zero": false}}, "y": {"field": "y", "type": "quantitative", "scale": {"domain": [-1, 1], "nice": false, "zero": false}}, "text": {"field": "t", "type": "nominal"}}}
]
},
{
"width": 13, "height": 221, "view": {"stroke": "#888"},
"data": {"name": "bl"},
"mark": {"type": "rect", "clip": true, "strokeWidth": 0.5},
"encoding": {
 "y": {"field": "v0", "type": "quantitative", "scale": {"domain": [-0.0252, 0.0252], "nice": false, "zero": false}, "axis": {"orient": "right", "values": [-0.02, -0.01, 0, 0.01, 0.02], "format": ".2f", "title": null, "domain": false, "labelPadding": 12}},
 "y2": {"field": "v1"},
 "color": {"field": "v", "type": "quantitative", "legend": null, "scale": {"type": "linear", "domain": [-0.0252, -0.02016, -0.01386, -0.00869, -0.00806, 0, 0.00882, 0.01386, 0.01966, 0.0252], "range": ["#4a14f0", "#0a14ff", "#0070ff", "#00e4ff", "#0ce40c", "#2ee600", "#ffff00", "#fdd24e", "#fcd385", "#fde0b2"], "interpolate": "rgb", "clamp": true, "zero": false, "nice": false}},
 "stroke": {"field": "v", "type": "quantitative", "legend": null, "scale": {"type": "linear", "domain": [-0.0252, -0.02016, -0.01386, -0.00869, -0.00806, 0, 0.00882, 0.01386, 0.01966, 0.0252], "range": ["#4a14f0", "#0a14ff", "#0070ff", "#00e4ff", "#0ce40c", "#2ee600", "#ffff00", "#fdd24e", "#fcd385", "#fde0b2"], "interpolate": "rgb", "clamp": true, "zero": false, "nice": false}}
}
},
{"width": 51, "height": 20, "view": {"stroke": null}, "data": {"values": []}, "mark": "point"},
{
"width": 257, "height": 246,
"layer": [
{"data": {"name": "br"}, "mark": {"type": "rect", "clip": true, "strokeWidth": 0.7},
 "encoding": {
  "y": {"field": "y", "type": "quantitative", "scale": {"domain": [-1, 1], "nice": false, "zero": false}, "axis": {"values": [-1, -0.5, 0, 0.5, 1], "format": ".1f", "title": null, "labelPadding": 5}},
  "y2": {"field": "y2"},
  "color": {"field": "v", "type": "quantitative", "legend": null, "scale": {"type": "linear", "domain": [-0.0462, -0.03696, -0.02541, -0.01594, -0.01478, 0, 0.01617, 0.02541, 0.03604, 0.0462], "range": ["#4a14f0", "#0a14ff", "#0070ff", "#00e4ff", "#0ce40c", "#2ee600", "#ffff00", "#fdd24e", "#fcd385", "#fde0b2"], "interpolate": "rgb", "clamp": true, "zero": false, "nice": false}},
  "stroke": {"field": "v", "type": "quantitative", "legend": null, "scale": {"type": "linear", "domain": [-0.0462, -0.03696, -0.02541, -0.01594, -0.01478, 0, 0.01617, 0.02541, 0.03604, 0.0462], "range": ["#4a14f0", "#0a14ff", "#0070ff", "#00e4ff", "#0ce40c", "#2ee600", "#ffff00", "#fdd24e", "#fcd385", "#fde0b2"], "interpolate": "rgb", "clamp": true, "zero": false, "nice": false}}
 }},
{"data": {"name": "ref"}, "transform": [{"filter": "datum.p === 'BR'"}], "mark": {"type": "rule", "strokeDash": [5, 4], "color": "#333", "strokeWidth": 1},
 "encoding": {"x": {"field": "z", "type": "quantitative", "scale": {"domain": [-1, 1], "nice": false, "zero": false}, "axis": {"values": [-1, -0.5, 0, 0.5, 1], "format": ".1f", "title": null, "labelPadding": 12}}}},
{"data": {"name": "lines"}, "transform": [{"filter": "datum.p === 'BR'"}], "mark": {"type": "line", "color": "black", "strokeWidth": 2.6, "clip": true},
 "encoding": {"x": {"field": "x", "type": "quantitative", "scale": {"domain": [-1, 1], "nice": false, "zero": false}}, "y": {"field": "y", "type": "quantitative", "scale": {"domain": [-1, 1], "nice": false, "zero": false}}, "detail": {"field": "s"}}},
{"data": {"name": "labels"}, "transform": [{"filter": "datum.p === 'BR'"}], "mark": {"type": "text", "angle": 0, "fontSize": 14, "color": "#111", "align": "center", "baseline": "middle"},
 "encoding": {"x": {"field": "x", "type": "quantitative", "scale": {"domain": [-1, 1], "nice": false, "zero": false}}, "y": {"field": "y", "type": "quantitative", "scale": {"domain": [-1, 1], "nice": false, "zero": false}}, "text": {"field": "t", "type": "nominal"}}}
]
},
{
"width": 13, "height": 221, "view": {"stroke": "#888"},
"data": {"name": "br"},
"mark": {"type": "rect", "clip": true, "strokeWidth": 0.5},
"encoding": {
 "y": {"field": "v0", "type": "quantitative", "scale": {"domain": [-0.0462, 0.0462], "nice": false, "zero": false}, "axis": {"orient": "right", "values": [-0.04, -0.02, 0, 0.02, 0.04], "format": ".2f", "title": null, "domain": false, "labelPadding": 12}},
 "y2": {"field": "v1"},
 "color": {"field": "v", "type": "quantitative", "legend": null, "scale": {"type": "linear", "domain": [-0.0462, -0.03696, -0.02541, -0.01594, -0.01478, 0, 0.01617, 0.02541, 0.03604, 0.0462], "range": ["#4a14f0", "#0a14ff", "#0070ff", "#00e4ff", "#0ce40c", "#2ee600", "#ffff00", "#fdd24e", "#fcd385", "#fde0b2"], "interpolate": "rgb", "clamp": true, "zero": false, "nice": false}},
 "stroke": {"field": "v", "type": "quantitative", "legend": null, "scale": {"type": "linear", "domain": [-0.0462, -0.03696, -0.02541, -0.01594, -0.01478, 0, 0.01617, 0.02541, 0.03604, 0.0462], "range": ["#4a14f0", "#0a14ff", "#0070ff", "#00e4ff", "#0ce40c", "#2ee600", "#ffff00", "#fdd24e", "#fcd385", "#fde0b2"], "interpolate": "rgb", "clamp": true, "zero": false, "nice": false}}
}
}
],
"config": {
 "font": "Liberation Sans",
 "locale": {"number": {"decimal": ".", "thousands": ",", "grouping": [3], "currency": ["$", ""], "minus": "-"}},
 "view": {"stroke": "#999", "strokeWidth": 1},
 "axis": {"grid": false, "tickSize": 11, "tickColor": "#333", "domainColor": "#444", "labelColor": "#222", "labelFontSize": 20, "labelFlush": false, "labelOverlap": false, "labelBound": false, "titleFontSize": 29.5, "titleFontWeight": "normal", "titleColor": "#111", "titleFont": "Liberation Sans", "labelFont": "Liberation Sans"},
 "title": {"font": "Liberation Sans"},
 "text": {"font": "Liberation Sans"}
}
}
